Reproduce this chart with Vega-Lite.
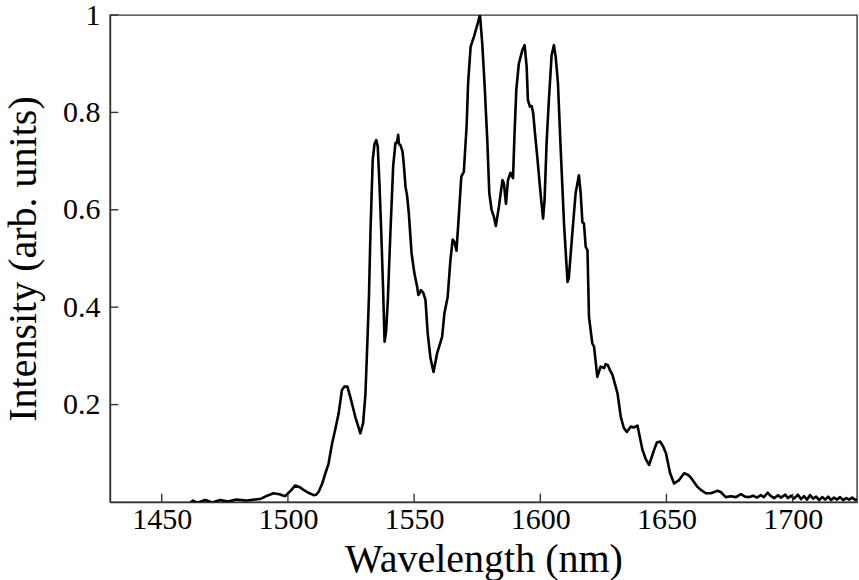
{
  "$schema": "https://vega.github.io/schema/vega-lite/v6.json",
  "width": 747,
  "height": 487,
  "autosize": "none",
  "padding": {"left": 110, "top": 15, "right": 2, "bottom": 78},
  "background": "white",
  "config": {
    "view": {"stroke": "#333", "strokeWidth": 1.4},
    "font": "Liberation Serif"
  },
  "datasets": {
    "xticks": [{"wl": 1450}, {"wl": 1500}, {"wl": 1550}, {"wl": 1600}, {"wl": 1650}, {"wl": 1700}],
    "yticks": [{"v": 0.2}, {"v": 0.4}, {"v": 0.6}, {"v": 0.8}, {"v": 1.0}],
    "spectrum": [
      {"wl": 1429.5, "v": -0.004}, {"wl": 1445.4, "v": -0.003}, {"wl": 1461.2, "v": -0.002},
      {"wl": 1462.4, "v": 0.003}, {"wl": 1464.0, "v": -0.002}, {"wl": 1467.2, "v": 0.004},
      {"wl": 1470.0, "v": -0.001}, {"wl": 1473.2, "v": 0.004}, {"wl": 1476.3, "v": 0.001},
      {"wl": 1479.5, "v": 0.005}, {"wl": 1483.5, "v": 0.003}, {"wl": 1487.0, "v": 0.005},
      {"wl": 1489.0, "v": 0.006}, {"wl": 1491.4, "v": 0.012}, {"wl": 1494.3, "v": 0.018},
      {"wl": 1496.6, "v": 0.016}, {"wl": 1498.9, "v": 0.012}, {"wl": 1500.9, "v": 0.022},
      {"wl": 1502.9, "v": 0.034}, {"wl": 1504.5, "v": 0.031}, {"wl": 1506.2, "v": 0.025},
      {"wl": 1508.1, "v": 0.019}, {"wl": 1510.2, "v": 0.014}, {"wl": 1511.2, "v": 0.015},
      {"wl": 1512.2, "v": 0.021}, {"wl": 1513.6, "v": 0.038}, {"wl": 1514.8, "v": 0.058},
      {"wl": 1516.1, "v": 0.079}, {"wl": 1517.5, "v": 0.12}, {"wl": 1518.8, "v": 0.15},
      {"wl": 1520.1, "v": 0.182}, {"wl": 1521.4, "v": 0.23}, {"wl": 1522.4, "v": 0.237},
      {"wl": 1523.6, "v": 0.237}, {"wl": 1524.7, "v": 0.216}, {"wl": 1526.7, "v": 0.175},
      {"wl": 1528.7, "v": 0.141}, {"wl": 1529.8, "v": 0.162}, {"wl": 1530.7, "v": 0.22},
      {"wl": 1531.5, "v": 0.33}, {"wl": 1532.1, "v": 0.42}, {"wl": 1532.7, "v": 0.552},
      {"wl": 1533.6, "v": 0.702}, {"wl": 1534.3, "v": 0.735}, {"wl": 1535.0, "v": 0.743},
      {"wl": 1535.6, "v": 0.73}, {"wl": 1536.3, "v": 0.65}, {"wl": 1537.0, "v": 0.552},
      {"wl": 1537.7, "v": 0.44}, {"wl": 1538.3, "v": 0.329}, {"wl": 1538.9, "v": 0.35},
      {"wl": 1539.6, "v": 0.415}, {"wl": 1540.6, "v": 0.552}, {"wl": 1541.7, "v": 0.689},
      {"wl": 1542.6, "v": 0.737}, {"wl": 1543.2, "v": 0.738}, {"wl": 1543.7, "v": 0.754},
      {"wl": 1544.0, "v": 0.735}, {"wl": 1544.6, "v": 0.733}, {"wl": 1545.4, "v": 0.72},
      {"wl": 1545.9, "v": 0.695}, {"wl": 1546.6, "v": 0.647}, {"wl": 1547.2, "v": 0.63},
      {"wl": 1547.9, "v": 0.593}, {"wl": 1549.0, "v": 0.511}, {"wl": 1550.1, "v": 0.47},
      {"wl": 1551.2, "v": 0.442}, {"wl": 1551.7, "v": 0.425}, {"wl": 1552.1, "v": 0.428},
      {"wl": 1552.7, "v": 0.435}, {"wl": 1553.6, "v": 0.43}, {"wl": 1554.5, "v": 0.415},
      {"wl": 1555.4, "v": 0.346}, {"wl": 1556.5, "v": 0.295}, {"wl": 1557.7, "v": 0.267},
      {"wl": 1559.1, "v": 0.305}, {"wl": 1561.1, "v": 0.339}, {"wl": 1562.0, "v": 0.387},
      {"wl": 1563.3, "v": 0.421}, {"wl": 1564.4, "v": 0.497}, {"wl": 1565.3, "v": 0.539},
      {"wl": 1566.0, "v": 0.534}, {"wl": 1566.8, "v": 0.516}, {"wl": 1567.7, "v": 0.586},
      {"wl": 1568.7, "v": 0.668}, {"wl": 1569.7, "v": 0.678}, {"wl": 1570.8, "v": 0.771},
      {"wl": 1571.4, "v": 0.86}, {"wl": 1572.4, "v": 0.935}, {"wl": 1573.7, "v": 0.955},
      {"wl": 1575.0, "v": 0.979}, {"wl": 1576.1, "v": 1.0}, {"wl": 1577.0, "v": 0.942},
      {"wl": 1577.9, "v": 0.86}, {"wl": 1579.0, "v": 0.743}, {"wl": 1579.8, "v": 0.634},
      {"wl": 1580.7, "v": 0.6}, {"wl": 1581.6, "v": 0.586}, {"wl": 1582.4, "v": 0.567},
      {"wl": 1583.6, "v": 0.606}, {"wl": 1585.0, "v": 0.661}, {"wl": 1585.6, "v": 0.654},
      {"wl": 1586.4, "v": 0.612}, {"wl": 1587.2, "v": 0.661}, {"wl": 1588.2, "v": 0.676},
      {"wl": 1589.2, "v": 0.665}, {"wl": 1589.8, "v": 0.757}, {"wl": 1590.5, "v": 0.846},
      {"wl": 1591.5, "v": 0.9}, {"wl": 1592.9, "v": 0.928}, {"wl": 1593.8, "v": 0.938},
      {"wl": 1594.6, "v": 0.894}, {"wl": 1595.1, "v": 0.825}, {"wl": 1595.9, "v": 0.812},
      {"wl": 1596.6, "v": 0.813}, {"wl": 1597.2, "v": 0.798}, {"wl": 1597.9, "v": 0.757},
      {"wl": 1598.8, "v": 0.709}, {"wl": 1600.1, "v": 0.634}, {"wl": 1601.1, "v": 0.582},
      {"wl": 1601.7, "v": 0.62}, {"wl": 1602.5, "v": 0.737}, {"wl": 1603.4, "v": 0.825},
      {"wl": 1604.5, "v": 0.918}, {"wl": 1605.4, "v": 0.938}, {"wl": 1606.1, "v": 0.914},
      {"wl": 1607.0, "v": 0.86}, {"wl": 1608.1, "v": 0.723}, {"wl": 1609.4, "v": 0.572},
      {"wl": 1610.8, "v": 0.452}, {"wl": 1611.3, "v": 0.46}, {"wl": 1612.7, "v": 0.552},
      {"wl": 1614.0, "v": 0.634}, {"wl": 1615.3, "v": 0.671}, {"wl": 1616.0, "v": 0.634},
      {"wl": 1616.7, "v": 0.574}, {"wl": 1617.3, "v": 0.572}, {"wl": 1618.0, "v": 0.524},
      {"wl": 1618.7, "v": 0.517}, {"wl": 1619.3, "v": 0.38}, {"wl": 1620.6, "v": 0.326},
      {"wl": 1621.3, "v": 0.319}, {"wl": 1622.6, "v": 0.257}, {"wl": 1623.9, "v": 0.278},
      {"wl": 1625.3, "v": 0.275}, {"wl": 1625.9, "v": 0.283}, {"wl": 1626.8, "v": 0.281},
      {"wl": 1627.5, "v": 0.272}, {"wl": 1628.6, "v": 0.261}, {"wl": 1630.6, "v": 0.223},
      {"wl": 1631.9, "v": 0.175}, {"wl": 1633.1, "v": 0.152}, {"wl": 1634.3, "v": 0.144},
      {"wl": 1635.9, "v": 0.155}, {"wl": 1637.0, "v": 0.153}, {"wl": 1638.5, "v": 0.157},
      {"wl": 1640.5, "v": 0.107}, {"wl": 1641.8, "v": 0.088}, {"wl": 1643.1, "v": 0.076},
      {"wl": 1645.1, "v": 0.107}, {"wl": 1646.2, "v": 0.122}, {"wl": 1647.5, "v": 0.124},
      {"wl": 1648.6, "v": 0.115}, {"wl": 1649.8, "v": 0.1}, {"wl": 1651.4, "v": 0.06},
      {"wl": 1653.0, "v": 0.038}, {"wl": 1655.0, "v": 0.045}, {"wl": 1657.0, "v": 0.059},
      {"wl": 1658.5, "v": 0.056}, {"wl": 1659.7, "v": 0.05}, {"wl": 1662.3, "v": 0.031},
      {"wl": 1663.6, "v": 0.025}, {"wl": 1665.6, "v": 0.018}, {"wl": 1667.6, "v": 0.018},
      {"wl": 1670.3, "v": 0.023}, {"wl": 1671.6, "v": 0.02}, {"wl": 1673.5, "v": 0.01},
      {"wl": 1675.5, "v": 0.012}, {"wl": 1677.5, "v": 0.01}, {"wl": 1679.5, "v": 0.016},
      {"wl": 1681.1, "v": 0.011}, {"wl": 1682.8, "v": 0.01}, {"wl": 1684.3, "v": 0.013},
      {"wl": 1685.8, "v": 0.009}, {"wl": 1687.4, "v": 0.014}, {"wl": 1688.6, "v": 0.01},
      {"wl": 1690.1, "v": 0.019}, {"wl": 1691.4, "v": 0.012}, {"wl": 1692.7, "v": 0.008},
      {"wl": 1694.2, "v": 0.014}, {"wl": 1695.4, "v": 0.009}, {"wl": 1697.0, "v": 0.015},
      {"wl": 1698.2, "v": 0.008}, {"wl": 1699.3, "v": 0.013}, {"wl": 1700.5, "v": 0.007},
      {"wl": 1702.1, "v": 0.015}, {"wl": 1703.3, "v": 0.006}, {"wl": 1704.5, "v": 0.012},
      {"wl": 1705.7, "v": 0.005}, {"wl": 1706.9, "v": 0.014}, {"wl": 1708.1, "v": 0.007},
      {"wl": 1709.3, "v": 0.011}, {"wl": 1710.5, "v": 0.004}, {"wl": 1711.7, "v": 0.01},
      {"wl": 1712.9, "v": 0.005}, {"wl": 1714.1, "v": 0.011}, {"wl": 1715.2, "v": 0.004},
      {"wl": 1716.4, "v": 0.009}, {"wl": 1717.6, "v": 0.005}, {"wl": 1718.8, "v": 0.01},
      {"wl": 1720.0, "v": 0.004}, {"wl": 1721.2, "v": 0.008}, {"wl": 1722.4, "v": 0.005},
      {"wl": 1723.6, "v": 0.009}, {"wl": 1724.8, "v": 0.004}, {"wl": 1725.5, "v": 0.006}
    ]
  },
  "layer": [
    {
      "data": {"name": "spectrum"},
      "mark": {"type": "line", "color": "black", "strokeWidth": 2.6, "clip": true, "strokeJoin": "round"},
      "encoding": {
        "x": {
          "field": "wl", "type": "quantitative", "title": "Wavelength (nm)",
          "scale": {"domain": [1429.5, 1725.5], "nice": false, "zero": false},
          "axis": {
            "title": "Wavelength (nm)",
            "values": [1450, 1500, 1550, 1600, 1650, 1700],
            "format": "d",
            "grid": false,
            "ticks": false,
            "domainColor": "#333", "domainWidth": 1.4,
            "labelFont": "Liberation Serif", "labelFontSize": 30, "labelColor": "black",
            "labelBaseline": "alphabetic", "labelPadding": 26,
            "labelFlush": false, "labelOverlap": false,
            "titleFont": "Liberation Serif", "titleFontSize": 40, "titleFontWeight": "normal", "titleColor": "black",
            "titleBaseline": "alphabetic", "titleY": 69
          }
        },
        "y": {
          "field": "v", "type": "quantitative", "title": "Intensity (arb. units)",
          "scale": {"domain": [0, 1], "nice": false, "zero": false},
          "axis": {
            "title": "Intensity (arb. units)",
            "values": [0.2, 0.4, 0.6, 0.8, 1],
            "format": "~g",
            "grid": false,
            "ticks": false,
            "domainColor": "#333", "domainWidth": 1.4,
            "labelFont": "Liberation Serif", "labelFontSize": 30, "labelColor": "black",
            "labelPadding": 10, "labelFlush": false, "labelOverlap": false, "labelBaseline": "middle",
            "titleFont": "Liberation Serif", "titleFontSize": 40, "titleFontWeight": "normal", "titleColor": "black",
            "titleBaseline": "alphabetic", "titleX": -75, "titleY": 243.5, "titleAngle": -90
          }
        }
      }
    },
    {
      "data": {"name": "xticks"},
      "mark": {"type": "rule", "color": "#333", "strokeWidth": 1.4},
      "encoding": {
        "x": {"field": "wl", "type": "quantitative", "title": "Wavelength (nm)"},
        "y": {"datum": 0},
        "y2": {"datum": 0.0168}
      }
    },
    {
      "data": {"name": "yticks"},
      "mark": {"type": "rule", "color": "#333", "strokeWidth": 1.4},
      "encoding": {
        "y": {"field": "v", "type": "quantitative", "title": "Intensity (arb. units)"},
        "x": {"datum": 1429.5},
        "x2": {"datum": 1432.8}
      }
    }
  ]
}
